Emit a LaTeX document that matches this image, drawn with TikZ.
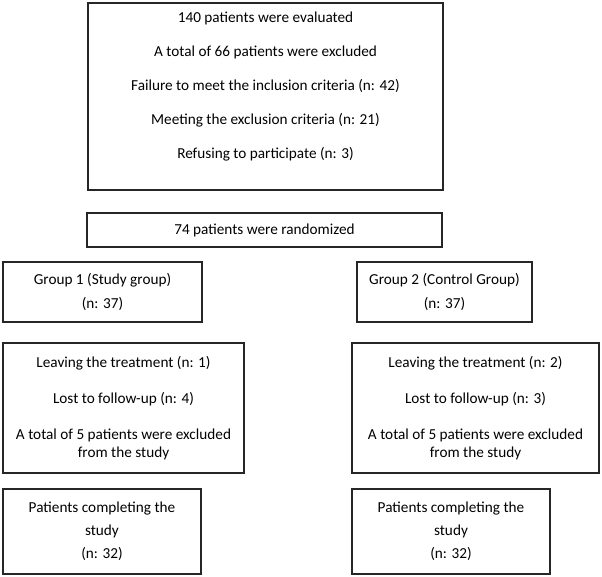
\documentclass[tikz,border=0pt]{standalone}
\usepackage{fontspec}
\setmainfont{Carlito}
\definecolor{boxline}{HTML}{262626}

\begin{document}
\begin{tikzpicture}[x=1bp,y=-1bp,every node/.style={font=\fontsize{15.3}{18.4}\selectfont,text=black,align=center},box/.style={draw=boxline,line width=1.1pt,inner sep=0pt}]
\useasboundingbox (0,0) rectangle (602,577);
\node[box,minimum width=355bp,minimum height=187bp,text depth=23bp] (evaluated) at (265.5,96.5){140 patients were evaluated\\[15.6bp]A total of 66 patients were excluded\\[15.6bp]Failure to meet the inclusion criteria (n: 42)\\[15.6bp]Meeting the exclusion criteria (n: 21)\\[15.6bp]Refusing to participate (n: 3)};
\node[box,minimum width=355bp,minimum height=34bp] (randomized) at (264.5,230){74 patients were randomized};
\node[box,minimum width=199bp,minimum height=60bp] (studygrp) at (102.5,292){Group 1 (Study group)\\[6.6bp](n: 37)};
\node[box,minimum width=175bp,minimum height=60bp] (controlgrp) at (444.5,292){Group 2 (Control Group)\\[6.6bp](n: 37)};
\node[box,minimum width=241bp,minimum height=130bp] (studyloss) at (123.5,408){Leaving the treatment (n: 1)\\[17.6bp]Lost to follow-up (n: 4)\\[17.6bp]A total of 5 patients were excluded\\from the study};
\node[box,minimum width=247bp,minimum height=130bp] (controlloss) at (475.5,408){Leaving the treatment (n: 2)\\[17.6bp]Lost to follow-up (n: 3)\\[17.6bp]A total of 5 patients were excluded\\from the study};
\node[box,minimum width=198bp,minimum height=85bp] (studydone) at (102,531.5){Patients completing the\\[4.6bp]study\\[4.6bp](n: 32)};
\node[box,minimum width=198bp,minimum height=85bp] (controldone) at (451,531.5){Patients completing the\\[4.6bp]study\\[4.6bp](n: 32)};
\end{tikzpicture}
\end{document}
